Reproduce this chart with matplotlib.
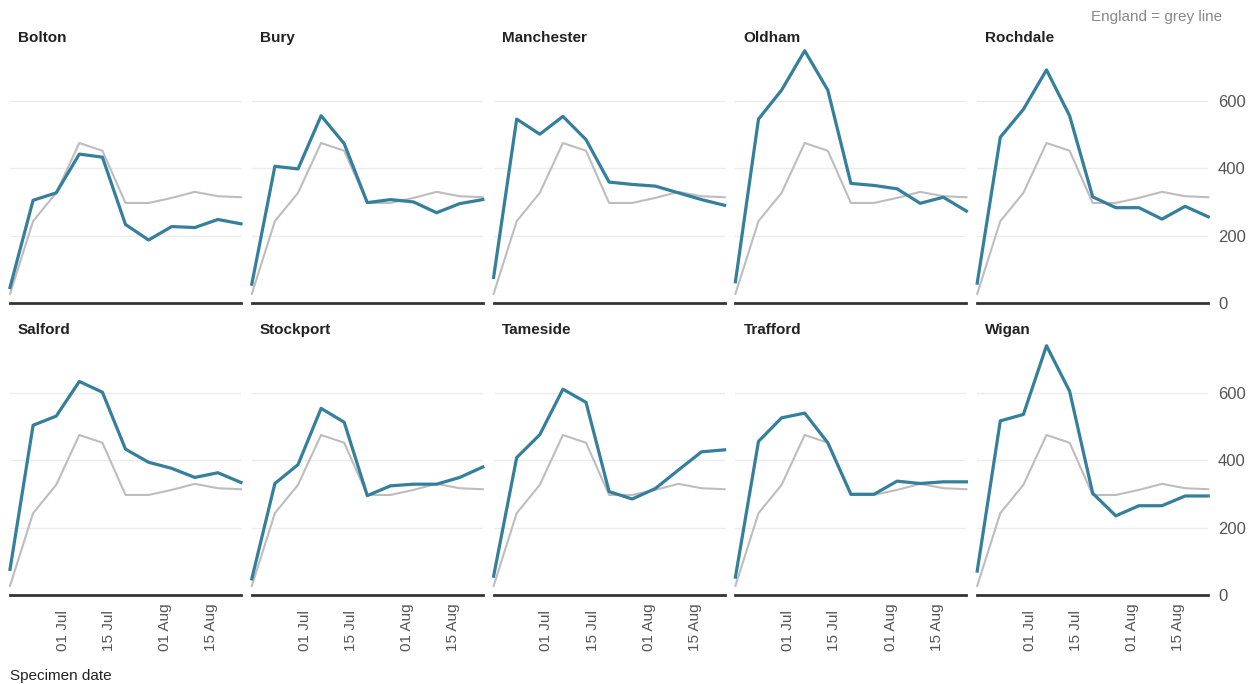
import numpy as np
import pandas as pd
import matplotlib
matplotlib.use('Agg')
import matplotlib.pyplot as plt
import matplotlib.dates as mdates

plt.rcParams['font.family'] = ['Liberation Sans', 'DejaVu Sans']

dates = pd.date_range('2020-06-15', periods=11, freq='7D')

england = [27, 243, 327, 475, 452, 297, 297, 312, 330, 317, 314]

areas = ['Bolton', 'Bury', 'Manchester', 'Oldham', 'Rochdale',
         'Salford', 'Stockport', 'Tameside', 'Trafford', 'Wigan']

bolton     = [46, 305, 327, 442, 433, 233, 187, 227, 224, 248, 235]
bury       = [56, 406, 398, 556, 473, 298, 307, 300, 268, 295, 307]
manchester = [76, 546, 501, 554, 485, 359, 352, 347, 327, 307, 290]
oldham     = [63, 546, 632, 749, 632, 355, 349, 339, 296, 314, 273]
rochdale   = [59, 492, 575, 692, 556, 315, 283, 283, 249, 287, 256]
salford    = [76, 504, 531, 634, 602, 433, 394, 376, 349, 363, 334]
stockport  = [48, 331, 387, 554, 513, 295, 324, 329, 329, 349, 380]
tameside   = [56, 408, 476, 611, 572, 307, 285, 316, 371, 425, 431]
trafford   = [53, 456, 526, 540, 452, 299, 299, 338, 331, 336, 336]
wigan      = [71, 517, 536, 740, 605, 302, 235, 265, 265, 294, 294]

values = [bolton, bury, manchester, oldham, rochdale,
          salford, stockport, tameside, trafford, wigan]

tick_dates = pd.to_datetime(['2020-07-01', '2020-07-15', '2020-08-01', '2020-08-15'])

W, H = 1259, 684
fig = plt.figure(figsize=(W / 100, H / 100), dpi=100)

blue = '#337f9c'
grey = '#bdbdbd'

for i, name in enumerate(areas):
    row, col = divmod(i, 5)
    left = 10 + 241.8 * col
    bottom = 595 if row == 1 else 303
    ax = fig.add_axes([left / W, (H - bottom) / H, 231 / W, 256 / H])

    ax.plot(dates, england, color=grey, lw=1.5, zorder=2, clip_on=False)
    ax.plot(dates, values[i], color=blue, lw=2.3, zorder=3, clip_on=False)

    ax.set_xlim(dates[0], dates[-1])
    ax.set_ylim(0, 760)
    ax.set_yticks([0, 200, 400, 600])
    for v in [200, 400, 600]:
        ax.axhline(v, color='#ebebeb', lw=1, zorder=1)
    ax.axhline(0, color='#333333', lw=2, zorder=4, clip_on=False)

    for s in ax.spines.values():
        s.set_visible(False)

    ax.yaxis.tick_right()
    ax.tick_params(axis='y', length=0, pad=7, labelsize=12, labelcolor='#555555')
    if col != 4:
        ax.tick_params(axis='y', labelright=False)

    ax.set_xticks(tick_dates)
    ax.xaxis.set_major_formatter(mdates.DateFormatter('%d %b'))
    ax.tick_params(axis='x', length=0, pad=40, labelsize=11, labelcolor='#555555')
    if row == 0:
        ax.tick_params(axis='x', labelbottom=False)
    else:
        for lab in ax.get_xticklabels():
            lab.set_rotation(90)
            lab.set_va('bottom')
            lab.set_ha('center')

    ax.text(8 / 231, 1 + 9 / 256, name, transform=ax.transAxes,
            fontsize=11, fontweight='bold', color='#222222', va='center', ha='left')

fig.text(1222 / W, 1 - 17 / H, 'England = grey line', ha='right', va='center',
         fontsize=11, color='#888888')
fig.text(10 / W, 1 - 676 / H, 'Specimen date', ha='left', va='center',
         fontsize=11, color='#222222')

fig.savefig('out.png', dpi=100)
